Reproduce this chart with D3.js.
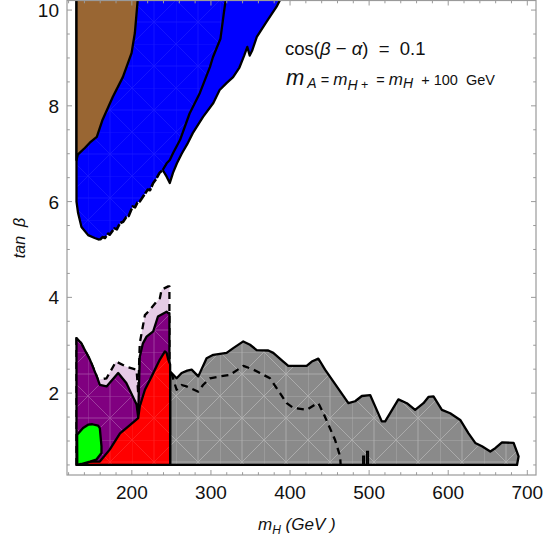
<!DOCTYPE html>
<html><head><meta charset="utf-8">
<script src="https://cdn.jsdelivr.net/npm/d3@7"></script>
<style>body{margin:0;background:#fff}svg{display:block}text{font-family:"Liberation Sans",Arial,sans-serif;white-space:pre}</style>
</head><body>
<svg id="c" width="545" height="539"></svg>
<script>
// ---- data (mH [GeV], tan beta) ----
const xTicks = [200, 300, 400, 500, 600, 700];
const yTicks = [2, 4, 6, 8, 10];
const brownRegion = [[130,10.25],[207.6,10.25],[203.8,9.52],[199.6,9.1],[188.6,8.6],[176,8.19],[163,7.71],[155.7,7.35],[146.8,7.23],[140.5,7.12],[131.6,6.98],[130,6.87]];
const blueLeftEdge = [[130,10.25],[130,6.0],[132,5.76],[136.3,5.47],[144.7,5.3],[153,5.24],[159.5,5.2]];
const blueDashedEdge = [[159.5,5.2],[163,5.26],[166,5.24],[170,5.33],[172,5.31],[178,5.44],[181,5.42],[185,5.55],[189,5.58],[193,5.68],[196,5.7],[201,5.9],[204,5.88],[207,5.98],[210,6.0],[214,6.1],[220,6.25],[223,6.24],[227,6.39],[231,6.48],[235,6.6],[239,6.66]];
const blueRightEdge = [[239,6.66],[244,6.52],[248,6.39],[252,6.6],[257,6.8],[263,7.0],[270,7.2],[277,7.43],[290,7.77],[303,8.06],[311,8.33],[320,8.48],[328,8.6],[336,8.8],[342,9.05],[346,9.23],[349,9.05],[352,9.15],[358,9.44],[370,9.75],[383,10.07],[388.6,10.25]];
const blueInnerLine = [[319,10.25],[316,9.9],[312,9.4],[302.6,9.02],[298.7,8.81],[286,8.27],[273,7.84],[261,7.29],[252,7.01],[248,6.87],[244,6.8],[239,6.66]];
const pinkRegion = [[130,0.5],[130,3.15],[136,3.04],[147,2.7],[155.6,2.35],[157,2.28],[168,2.31],[180,2.66],[193,2.55],[206,2.49],[208,2.0],[210,3.04],[216.5,3.63],[220.7,3.7],[231.3,3.91],[235.4,3.98],[237.6,4.16],[246,4.23],[247.5,4.23],[247.5,0.5]];
const purpleRegion = [[130,0.5],[130,3.15],[136,3.04],[147,2.7],[155.6,2.35],[159.5,2.17],[168,2.14],[182.7,2.42],[193,2.21],[206,1.76],[208,1.5],[210,2.76],[214,3.04],[218.6,3.18],[227,3.29],[233,3.6],[243.9,3.7],[246,3.67],[247.5,3.67],[247.5,0.5]];
const redRegion = [[131,0.5],[134,0.5],[147,0.57],[159.5,0.57],[172,0.82],[185,1.16],[193,1.27],[208,1.48],[210,1.72],[216.5,2.07],[225,2.35],[235.4,2.7],[241.8,2.87],[244,2.84],[246,2.7],[248.4,2.6],[248.4,0.5]];
const greenRegion = [[130.8,1.13],[138.3,1.27],[144.7,1.34],[150,1.35],[157.3,1.32],[159.5,1.27],[161.6,0.89],[161.6,0.75],[155,0.61],[147,0.57],[136,0.52],[131,0.5]];
const grayRegion = [[248.4,0.5],[248.4,2.45],[256.6,2.31],[262.9,2.42],[270,2.47],[275.6,2.49],[284,2.35],[294.5,2.73],[303,2.8],[319.8,2.84],[328.2,2.94],[340.9,3.08],[349.4,3.01],[357.8,2.9],[372.5,2.89],[378.8,2.84],[391.5,2.66],[397.8,2.57],[421,2.57],[427.5,2.66],[435.8,2.72],[444.3,2.49],[473.8,1.79],[482.3,1.83],[490.8,1.94],[501.3,1.96],[516,1.41],[520.3,1.41],[537,1.87],[547.7,1.79],[558.2,1.65],[568.7,1.79],[575,1.92],[581.4,1.93],[592,1.65],[602.5,1.58],[615.2,1.44],[625.7,1.16],[634.2,0.96],[642.7,0.89],[653.2,0.78],[659.5,0.85],[668,0.97],[682.7,0.96],[689,0.68],[687,0.5]];
const grayDashed = [[250,2.42],[256.6,2.07],[263,2.17],[269,2.14],[284,2.03],[290,2.17],[298.7,2.31],[311.4,2.35],[324,2.38],[341,2.57],[353.7,2.49],[362,2.42],[374.7,2.31],[387.3,2.0],[395.8,1.79],[404.2,1.69],[421,1.65],[431.6,1.76],[435.8,1.79],[442.2,1.58],[457,1.02],[463.3,0.68],[464,0.5]];
const smallMarks = [[[492,0.5],[492,0.68],[494,0.68],[494,0.5]],[[497,0.5],[497,0.78],[499,0.78],[499,0.5]]];

// ---- layout ----
const svg = d3.select("#c");
const L = 67, R = 536, T = 0.5, B = 475;
const x = d3.scaleLinear().domain([118, 711]).range([L, R]);
const y = d3.scaleLinear().domain([0.29, 10.2]).range([B, T]);
const line = d3.line().x(d => x(d[0])).y(d => y(d[1]));
const area = pts => line(pts) + "Z";

const defs = svg.append("defs");
defs.append("clipPath").attr("id","plot").append("rect").attr("x",L).attr("y",T).attr("width",R-L).attr("height",B-T);
const pat = defs.append("pattern").attr("id","mesh").attr("patternUnits","userSpaceOnUse").attr("width",44).attr("height",44);
pat.append("path").attr("d","M0,0L44,44M44,0L0,44M22,0V44M0,22H44M0,0H44M0,0V44")
  .attr("stroke","#fff").attr("stroke-width",0.8).attr("fill","none");

const g = svg.append("g").attr("clip-path","url(#plot)");

function region(pts, fill, meshOp, dashed) {
  g.append("path").attr("d", area(pts)).attr("fill", fill);
  if (meshOp) g.append("path").attr("d", area(pts)).attr("fill","url(#mesh)").attr("opacity", meshOp);
  g.append("path").attr("d", area(pts)).attr("fill","none").attr("stroke","#000")
    .attr("stroke-width",2.3).attr("stroke-linejoin","round")
    .attr("stroke-dasharray", dashed ? "7,5" : null);
}

// blue union
const blueUnion = blueLeftEdge.concat(blueDashedEdge.slice(1), blueRightEdge.slice(1));
g.append("path").attr("d", area(blueUnion)).attr("fill","#0000ff");
const innerBlue = blueLeftEdge.concat(blueDashedEdge.slice(1), blueInnerLine.slice().reverse().slice(1));
g.append("path").attr("d", area(innerBlue)).attr("fill","url(#mesh)").attr("opacity",0.1);
const strokeLine = (pts, dash, w) => g.append("path").attr("d", line(pts)).attr("fill","none")
  .attr("stroke","#000").attr("stroke-width", w || 2.3).attr("stroke-linejoin","round").attr("stroke-dasharray", dash || null);
strokeLine(blueLeftEdge);
strokeLine(blueDashedEdge, "9,1.5", 2.6);
strokeLine(blueRightEdge);
strokeLine(blueInnerLine);

region(brownRegion, "#996633", 0, false);

region(grayRegion, "#8a8a8a", 0.35, false);
strokeLine(grayDashed, "7,5");
smallMarks.forEach(m => g.append("path").attr("d", line(m)).attr("fill","none").attr("stroke","#000").attr("stroke-width",1.5));

region(pinkRegion, "#e6cce6", 0, true);
region(purpleRegion, "#800080", 0.3, false);
region(redRegion, "#ff0000", 0.15, false);
region(greenRegion, "#00ff00", 0, false);

// ---- frame & ticks ----
const frameCol = "#9a9a9a";
svg.append("rect").attr("x",L).attr("y",T).attr("width",R-L).attr("height",B-T)
  .attr("fill","none").attr("stroke",frameCol).attr("stroke-width",1.2);

const xMinor = d3.range(120, 711, 20);
const yMinor = d3.range(0.5, 10.01, 0.5);
const tg = svg.append("g").attr("stroke",frameCol).attr("stroke-width",1);
xMinor.forEach(v => {
  const len = xTicks.includes(v) ? 5 : 2.8;
  tg.append("line").attr("x1",x(v)).attr("x2",x(v)).attr("y1",B).attr("y2",B-len);
  tg.append("line").attr("x1",x(v)).attr("x2",x(v)).attr("y1",T).attr("y2",T+len);
});
yMinor.forEach(v => {
  const len = yTicks.includes(v) ? 5 : 2.8;
  tg.append("line").attr("y1",y(v)).attr("y2",y(v)).attr("x1",L).attr("x2",L+len);
  tg.append("line").attr("y1",y(v)).attr("y2",y(v)).attr("x1",R).attr("x2",R-len);
});

svg.append("g").selectAll("text").data(xTicks).join("text")
  .attr("x", d => x(d)).attr("y", 499).attr("text-anchor","middle")
  .attr("font-size",19).attr("fill","#111").text(d => d);
svg.append("g").selectAll("text").data(yTicks).join("text")
  .attr("x", 59).attr("y", d => y(d) + 7).attr("text-anchor","end")
  .attr("font-size",19).attr("fill","#111").text(d => d);

// axis titles
const xt = svg.append("text").attr("x",258).attr("y",530).attr("font-size",17).attr("fill","#111").attr("font-style","italic");
xt.append("tspan").text("m");
xt.append("tspan").attr("font-size",12).attr("dy",4).text("H");
xt.append("tspan").attr("dy",-4).text(" (GeV )");

svg.append("text").attr("transform","translate(25,238) rotate(-90)").attr("text-anchor","middle")
  .attr("font-size",16).attr("font-style","italic").attr("fill","#111").text("tan  β");

// annotation
const a1 = svg.append("text").attr("x",285).attr("y",55).attr("font-size",18.5).attr("fill","#111");
a1.append("tspan").text("cos(");
a1.append("tspan").attr("font-style","italic").text("β");
a1.append("tspan").text(" − ");
a1.append("tspan").attr("font-style","italic").text("α");
a1.append("tspan").text(")  =  0.1");

const a2 = svg.append("text").attr("x",286).attr("y",85).attr("fill","#111").attr("font-size",14.5);
a2.append("tspan").attr("font-style","italic").attr("font-size",22).text("m");
a2.append("tspan").attr("font-style","italic").attr("font-size",14).attr("dx",3).attr("dy",3).text("A");
a2.append("tspan").attr("dy",-3).text(" = ");
a2.append("tspan").attr("font-style","italic").attr("font-size",17).text("m");
a2.append("tspan").attr("font-style","italic").attr("font-size",14).attr("dy",5).text("H");
a2.append("tspan").attr("font-size",12.5).attr("dy",-1).text(" +");
a2.append("tspan").attr("dy",-4).text("  = ");
a2.append("tspan").attr("font-style","italic").attr("font-size",17).text("m");
a2.append("tspan").attr("font-style","italic").attr("font-size",14).attr("dy",3).text("H");
a2.append("tspan").attr("dy",-3).text("  + 100  GeV");
</script>
</body></html>
